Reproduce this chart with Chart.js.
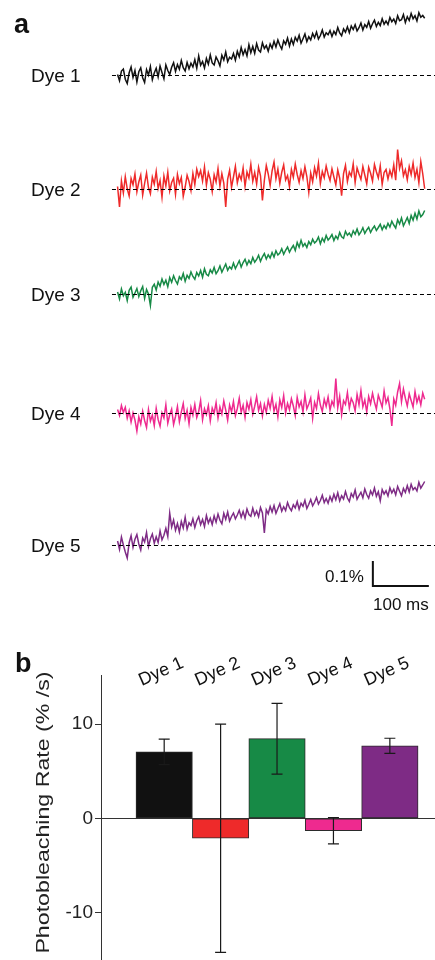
<!DOCTYPE html>
<html>
<head>
<meta charset="utf-8">
<script src="https://cdn.jsdelivr.net/npm/chart.js@4.4.1/dist/chart.umd.min.js"></script>
<style>
  body { margin: 0; background: #fff; }
  canvas { display: block; }
</style>
</head>
<body>
<canvas id="traces" width="435" height="620"></canvas>
<canvas id="rates" width="435" height="340"></canvas>
<script>
const FONT = '"Liberation Sans", Arial, Helvetica, sans-serif';

const dyeNames = ["Dye 1", "Dye 2", "Dye 3", "Dye 4", "Dye 5"];
const dyeColors = ["#111111", "#ee2a2a", "#178a46", "#ee2a8f", "#7e2b85"];

// panel a: fluorescence change in units of 0.01 %, one sample every 3.45 ms
const sampleMs = 3.45;
const dye1Trace = [
  0.4, -2.1, 1.8, 2.6, -1.5, -3.2, 1.1, 3.4, -0.8, 2.0,
  -2.6, 1.5, 3.1, -0.9, -2.8, 2.4, 0.2, 3.6, -1.7, 1.0,
  2.9, -0.6, 3.8, 1.2, -1.3, 4.2, 2.0, 0.4, 3.3, 5.1,
  1.6, 4.4, 2.5, 6.0, 3.1, 1.8, 5.2, 2.7, 4.9, 3.4,
  6.3, 2.9, 7.8, 4.1, 5.6, 3.0, 6.8, 4.5, 8.2, 5.0,
  4.2, 7.4, 5.9, 3.8, 8.1, 6.2, 9.4, 5.5, 7.3, 6.6,
  8.8, 6.1, 9.7, 7.5, 11.2, 8.3, 10.4, 7.9, 12.3, 9.1,
  11.6, 8.9, 12.8, 10.2, 9.4, 13.1, 10.8, 12.0, 9.7, 12.6,
  10.9, 13.7, 11.4, 14.2, 12.1, 10.6, 13.9, 12.5, 15.0, 11.8,
  14.6, 12.4, 15.3, 13.8, 16.1, 12.9, 14.7, 16.6, 13.6, 15.5,
  14.2, 16.8, 15.1, 17.4, 14.6, 16.0, 18.2, 15.4, 17.1, 16.3,
  18.0, 15.6, 17.7, 16.4, 19.2, 17.0, 15.9, 18.6, 17.3, 19.5,
  17.1, 19.8, 18.4, 20.3, 17.8, 19.1, 21.0, 18.2, 20.4, 19.3,
  21.6, 18.9, 20.7, 22.1, 19.6, 21.3, 20.0, 22.7, 20.5, 21.8,
  20.4, 23.2, 21.5, 22.6, 20.8, 23.9, 21.9, 22.3, 24.4, 21.2,
  23.5, 22.0, 24.8, 22.7, 23.9, 21.8, 25.1, 23.3, 24.0, 22.9
];
const dye2Trace = [
  1.2, -7.0, 3.5, -1.4, 5.1, 0.3, -2.6, 4.4, 1.9, 6.2,
  -0.9, 3.0, 5.8, -2.2, 2.4, 6.6, 0.8, -1.7, 4.9, 2.1,
  7.2, 0.4, 3.6, -3.1, 5.4, 1.5, 6.9, -0.6, 2.8, 4.5,
  -1.9, 6.0, 2.3, 4.8, -2.7, 1.0, 5.7, 3.2, -0.4, 6.4,
  2.0, 8.1, 5.2, 7.6, 3.4, 9.0, 1.8, 6.7, 4.1, -0.8,
  5.9, 3.0, 8.4, 1.4, 6.3, 2.6, -7.0, 4.2, 7.7, 0.9,
  5.0, 9.3, 2.7, 6.1, 3.9, 8.6, 1.2, 7.0, 4.6, 10.1,
  3.3, 6.8, 2.2, 8.9, 5.5, -4.4, 3.7, 9.6, 6.2, 1.6,
  7.4, 11.0, 4.3, 8.2, 2.5, 6.9, 9.8, 3.8, 5.6, 1.1,
  8.0, 4.9, 10.2, 6.0, 2.9, 7.5, 4.4, 9.1, 5.2, -1.2,
  6.6, 3.1, 8.7, 5.3, 10.5, 2.4, 7.2, 4.7, 9.4, 6.1,
  3.6, 8.3, 5.0, 1.9, 7.8, 4.5, -2.5, 6.4, 9.7, 3.2,
  7.0, 5.4, 10.3, 2.8, 8.6, 6.2, 4.0, 9.2, 5.8, 2.3,
  8.9, 6.5, 3.4, 10.0, 7.1, 4.6, 9.5, 2.1, 6.8, 8.0,
  4.2, 7.6, 5.1, 9.9, 3.7, 16.0, 8.4, 11.5, 5.5, 7.9,
  3.9, 9.2, 6.0, 10.6, 4.8, 8.1, 2.7, 11.2, 6.3, 0.3
];
const dye3Trace = [
  1.0, -1.8, 2.2, -0.5, 0.9, -2.4, 1.7, 3.0, -1.1, 0.6,
  2.4, -0.8, 1.5, 3.2, -1.6, 2.0, 0.2, -4.4, 2.9, 4.1,
  1.8, 5.0, 3.3, 6.2, 4.0, 5.7, 3.1, 6.8, 4.9, 7.5,
  5.6, 4.2, 7.1, 6.0, 8.4, 5.3, 7.7, 6.4, 9.0, 7.2,
  6.1, 8.8, 7.4, 9.6, 6.9, 10.3, 8.1, 7.5, 9.9, 8.6,
  10.8, 8.3, 9.5, 11.4, 8.9, 10.6, 12.2, 9.7, 11.1, 10.2,
  12.6, 10.4, 11.9, 13.5, 11.0, 12.8, 14.1, 11.8, 13.6, 12.3,
  14.8, 12.9, 14.0, 15.7, 13.3, 15.1, 16.4, 14.2, 15.9, 14.6,
  16.8, 15.0, 17.5, 15.8, 16.6, 18.3, 16.1, 17.7, 19.0, 16.9,
  18.4, 19.6, 17.6, 20.8, 18.9, 21.7, 19.3, 20.4, 18.8, 21.2,
  19.9, 22.1, 20.6, 21.4, 23.0, 20.3, 22.5, 21.1, 23.6, 21.8,
  22.7, 24.0, 21.6, 23.4, 22.2, 24.8, 23.1, 22.5, 25.3, 23.7,
  24.6, 23.2, 25.5, 24.1, 26.2, 23.9, 25.0, 26.7, 24.4, 25.8,
  26.9, 24.8, 26.3, 27.4, 25.6, 26.8, 28.1, 25.9, 27.6, 26.4,
  28.5, 27.0, 29.3, 27.8, 26.6, 29.9, 28.2, 30.6, 27.5, 29.1,
  30.8, 28.4, 31.6, 29.7, 32.5, 30.2, 33.4, 31.1, 32.0, 33.6
];
const dye4Trace = [
  1.6, -0.8, 3.2, 0.4, 2.5, -1.9, 1.1, -3.4, 0.2, -2.6,
  -7.0, -1.3, -4.2, 0.9, -2.8, -5.6, 1.6, -3.0, -0.6, -4.8,
  2.1, -2.4, -5.1, 0.3, -1.8, 3.5, -3.9, -0.5, 1.8, -4.4,
  -1.2, 2.8, -3.3, 0.6, 4.0, -2.0, 1.3, -4.1, 2.4, -0.7,
  3.6, -1.6, 0.8, 5.2, -2.5, 1.9, -0.4, 3.1, -3.0, 2.2,
  0.1, 4.3, -1.9, 2.6, -0.2, 5.0, 1.4, -2.7, 3.4, 0.7,
  4.8, -0.9, 2.0, 6.1, 0.5, 3.3, -1.6, 4.4, 1.7, 5.6,
  -0.3, 2.9, 6.7, 1.2, 4.0, -1.0, 3.6, 0.4, 5.3, 2.1,
  6.8, 0.9, 3.7, -1.4, 5.5, 2.4, 7.2, 0.2, 4.1, 1.5,
  5.9, 3.0, -0.8, 6.4, 2.6, 4.8, 0.6, 7.5, 1.9, 3.8,
  6.2, -1.9, 4.5, 2.0, 8.0, 3.4, 0.8, 5.7, 2.9, 6.6,
  1.4, 4.9, 3.1, 14.0, 2.3, 6.9, -0.5, 5.1, 3.6, 8.4,
  2.2, 6.0, 4.3, 1.0, 7.6, 3.5, 9.2, 2.7, 5.4, 0.6,
  6.8, 3.9, 8.1, 4.6, 1.8, 7.3, 5.0, 2.5, 9.0, 4.2,
  6.4, 1.9, -5.0, 5.8, 3.3, 8.6, 12.0, 4.7, 9.8, 6.1,
  3.0, 7.9, 5.2, 2.6, 8.8, 4.4, 6.9, 3.5, 8.2, 5.7
];
const dye5Trace = [
  1.8, -1.5, 3.4, 0.2, -2.6, -5.0, 1.1, 3.9, -0.7, 2.5,
  4.4, 0.6, -1.8, 3.0, 1.4, 5.2, -0.4, 2.7, 4.6, 0.9,
  3.5, 1.2, 5.8, 2.3, 4.1, 6.9, 3.6, 13.0, 7.4, 10.2,
  6.1, 8.8, 5.4, 9.6, 7.0, 11.3, 6.5, 9.1, 8.0, 10.7,
  7.2, 9.9, 11.5, 8.3, 10.4, 7.6, 12.0, 9.0, 10.9, 8.4,
  11.8, 9.3, 12.6, 10.1, 8.7, 12.9, 10.5, 13.4, 9.8, 11.6,
  13.0, 10.7, 12.2, 14.1, 11.3, 13.6, 10.9, 14.6, 12.4, 11.7,
  14.9, 12.1, 13.8, 11.5, 15.2, 13.0, 5.0, 14.3, 12.7, 15.6,
  13.4, 16.0, 12.9, 14.8, 16.7, 13.7, 15.5, 14.0, 17.2, 15.1,
  13.9, 16.3, 15.0, 17.6, 14.5, 16.9, 15.7, 18.1, 14.8, 16.5,
  18.4, 15.9, 17.3, 19.2, 16.6, 18.0, 20.1, 17.2, 18.8, 16.9,
  19.6, 17.7, 20.5, 18.3, 21.1, 17.8, 19.9, 18.6, 21.6, 19.0,
  17.6, 20.8, 19.4, 22.2, 18.5, 20.0, 21.3, 19.1, 22.6, 20.4,
  18.9, 21.8, 20.2, 23.0, 19.7, 21.5, 17.9, 22.4, 20.6, 21.9,
  19.8, 23.1, 21.0, 22.5, 20.3, 23.6, 21.7, 19.9, 22.8, 21.2,
  23.9, 21.4, 24.5, 22.3, 23.2, 21.8, 25.3, 22.9, 24.2, 25.6
];
const dyeTraces = [dye1Trace, dye2Trace, dye3Trace, dye4Trace, dye5Trace];
// vertical offset of each trace (same units), so they stack like the figure
const traceBaselines = [217.8, 172.2, 130.2, 82.6, 29.8];
const baselineSpanMs = [-10, 567];
const scaleBarMs = 100;
const scaleBarPct = 10; // 0.1 %
const scaleBarCorner = [456, 13.6];

// panel b
const rateValues = [7.05, -2.1, 8.45, -1.3, 7.7];
const rateErrors = [1.35, 12.1, 3.75, 1.4, 0.8];
const rateTicks = [10, 0, -10];
const rateTitle = "Photobleaching Rate (% /s)";

Chart.defaults.font.family = FONT;
Chart.defaults.color = "#1a1a1a";

// ---------- panel a ----------
const traceSets = [];
traceBaselines.forEach(b => {
  traceSets.push({
    data: baselineSpanMs.map(t => ({ x: t, y: b })),
    borderColor: "#000",
    borderWidth: 1.1,
    borderDash: [4, 3]
  });
});
traceSets.push({
  data: [
    { x: scaleBarCorner[0], y: scaleBarCorner[1] + scaleBarPct },
    { x: scaleBarCorner[0], y: scaleBarCorner[1] },
    { x: scaleBarCorner[0] + scaleBarMs, y: scaleBarCorner[1] }
  ],
  borderColor: "#111",
  borderWidth: 2
});
dyeTraces.forEach((tr, k) => {
  traceSets.push({
    data: tr.map((v, i) => ({ x: i * sampleMs, y: v + traceBaselines[k] })),
    borderColor: dyeColors[k],
    borderWidth: 1.5
  });
});

const traceText = {
  id: "traceText",
  afterDraw(chart) {
    const { ctx, scales: { x, y } } = chart;
    ctx.save();
    ctx.fillStyle = "#111";
    ctx.font = `bold 27px ${FONT}`;
    ctx.textBaseline = "alphabetic";
    ctx.fillText("a", 14, 33);

    ctx.font = `19px ${FONT}`;
    ctx.textBaseline = "middle";
    dyeNames.forEach((n, i) => {
      ctx.fillText(n, 31, y.getPixelForValue(traceBaselines[i]) + 1);
    });

    ctx.font = `17px ${FONT}`;
    const bx = x.getPixelForValue(scaleBarCorner[0]);
    const bx2 = x.getPixelForValue(scaleBarCorner[0] + scaleBarMs);
    const by = y.getPixelForValue(scaleBarCorner[1]);
    ctx.textAlign = "right";
    ctx.fillText("0.1%", bx - 9, by - 9);
    ctx.textAlign = "center";
    ctx.fillText("100 ms", (bx + bx2) / 2, by + 19);
    ctx.restore();
  }
};

new Chart(document.getElementById("traces"), {
  type: "line",
  data: { datasets: traceSets },
  options: {
    responsive: false,
    animation: false,
    layout: { padding: 0 },
    elements: { point: { radius: 0 }, line: { tension: 0 } },
    plugins: { legend: { display: false }, tooltip: { enabled: false } },
    scales: {
      x: { type: "linear", display: false, min: -210, max: 567 },
      y: { type: "linear", display: false, min: 0, max: 248 }
    }
  },
  plugins: [traceText]
});

// ---------- panel b ----------
const rateExtras = {
  id: "rateExtras",
  afterDatasetsDraw(chart) {
    const { ctx, scales: { x, y } } = chart;
    ctx.save();
    ctx.strokeStyle = "#1a1a1a";
    ctx.lineWidth = 1.2;
    rateValues.forEach((v, i) => {
      const px = x.getPixelForValue(i + 1);
      const hi = y.getPixelForValue(v + rateErrors[i]);
      const lo = y.getPixelForValue(v - rateErrors[i]);
      ctx.beginPath();
      ctx.moveTo(px, hi); ctx.lineTo(px, lo);
      ctx.moveTo(px - 5.5, hi); ctx.lineTo(px + 5.5, hi);
      ctx.moveTo(px - 5.5, lo); ctx.lineTo(px + 5.5, lo);
      ctx.stroke();
    });
    ctx.restore();
  },
  afterDraw(chart) {
    const { ctx, scales: { x }, chartArea } = chart;
    ctx.save();
    ctx.fillStyle = "#111";
    ctx.font = `bold 27px ${FONT}`;
    ctx.fillText("b", 15, 52);

    ctx.font = `18px ${FONT}`;
    ctx.textAlign = "left";
    ctx.textBaseline = "alphabetic";
    dyeNames.forEach((n, i) => {
      ctx.save();
      ctx.translate(x.getPixelForValue(i + 1) - 22.5, chartArea.top + 11);
      ctx.rotate(-24 * Math.PI / 180);
      ctx.fillText(n, 0, 0);
      ctx.restore();
    });

    // axis title, stretched along its length like the figure's lettering
    ctx.fillStyle = "#222";
    ctx.font = `19px ${FONT}`;
    ctx.textAlign = "center";
    ctx.textBaseline = "middle";
    ctx.translate(44, (chartArea.top + chartArea.bottom) / 2 - 5);
    ctx.rotate(-Math.PI / 2);
    ctx.scale(1.22, 1);
    ctx.fillText(rateTitle, 0, 0);
    ctx.restore();
  }
};

new Chart(document.getElementById("rates"), {
  type: "bar",
  data: {
    datasets: [{
      data: rateValues.map((v, i) => ({ x: i + 1, y: v })),
      backgroundColor: dyeColors,
      borderColor: "#2b2b2b",
      borderWidth: 1,
      borderSkipped: false,
      barPercentage: 1,
      categoryPercentage: 1
    }]
  },
  options: {
    responsive: false,
    animation: false,
    datasets: { bar: { barPercentage: 1, categoryPercentage: 1 } },
    layout: { padding: { left: 29, top: 55, right: 0, bottom: 0 } },
    plugins: { legend: { display: false }, tooltip: { enabled: false } },
    scales: {
      x: {
        type: "linear",
        min: -0.12,
        max: 5.8,
        offset: false,
        position: { y: 0 },
        afterBuildTicks: s => { s.ticks = rateValues.map((v, i) => ({ value: i + 1 })); },
        ticks: { display: false },
        grid: { display: false, offset: false },
        border: { display: true, color: "#333", width: 1 }
      },
      y: {
        min: -15,
        max: 15.2,
        afterBuildTicks: s => { s.ticks = rateTicks.map(v => ({ value: v })); },
        afterFit: s => { s.width = 72; s.paddingTop = 0; s.paddingBottom = 0; },
        grid: { display: true, drawOnChartArea: false, drawTicks: true, tickLength: 6, color: "#333" },
        border: { display: true, color: "#333", width: 1 },
        ticks: { padding: 2, color: "#222", font: { size: 19 } },
        title: { display: false }
      }
    }
  },
  plugins: [rateExtras]
});
</script>
</body>
</html>
